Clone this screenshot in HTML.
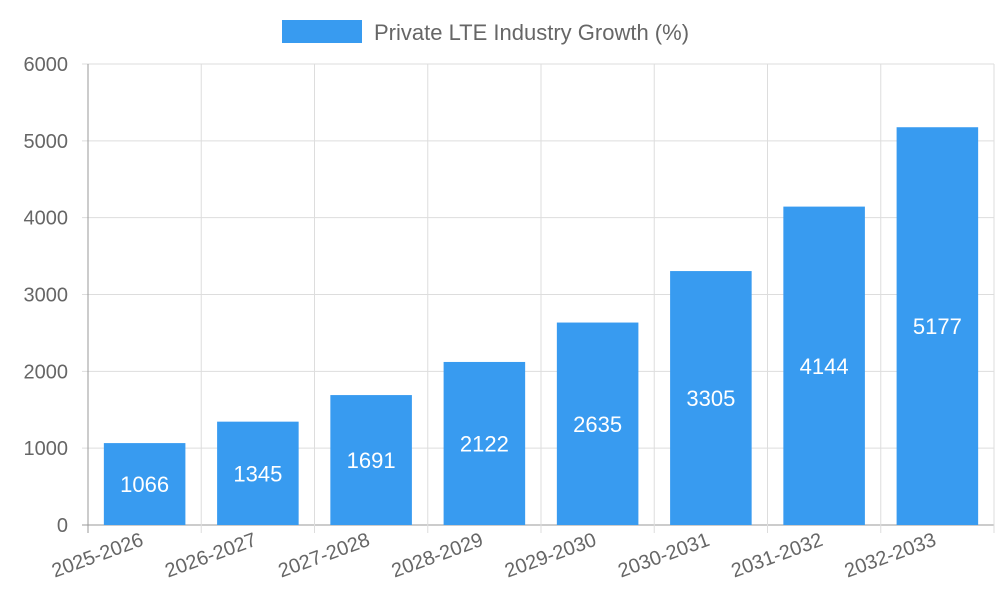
<!DOCTYPE html>
<html><head><meta charset="utf-8"><style>
body{margin:0;background:#fff;font-family:"Liberation Sans",sans-serif}
svg text{font-family:"Liberation Sans",sans-serif}
</style></head><body>
<svg id="c" width="1000" height="600">
<g>
<rect x="282" y="20" width="80" height="23" fill="#389bf0"/>
<text x="374" y="40" font-size="22" fill="#666">Private LTE Industry Growth (%)</text>
</g>
</svg>
<script>
const categories=["2025-2026","2026-2027","2027-2028","2028-2029","2029-2030","2030-2031","2031-2032","2032-2033"];
const values=[1066,1345,1691,2122,2635,3305,4144,5177];
const yTicks=[0,1000,2000,3000,4000,5000,6000];
const svg=document.getElementById('c');
const NS='http://www.w3.org/2000/svg';
const L=88,R=994,T=64,B=525,yMax=6000;
const bw=(R-L)/categories.length;
const x=i=>L+i*bw;
const y=v=>B-(v/yMax)*(B-T);
function mk(t,a){const e=document.createElementNS(NS,t);for(const k in a)e.setAttribute(k,a[k]);svg.appendChild(e);return e;}
yTicks.forEach(v=>{
 const g=mk('line',{x1:L-6,x2:R,y1:y(v),y2:y(v),stroke:v===0?'#999':'#ddd','stroke-width':1});
 
 
 const t=mk('text',{x:L-20,y:y(v)+7,'text-anchor':'end','font-size':20,fill:'#666'});
 t.textContent=v;
 
 
});
for(let i=0;i<=categories.length;i++){
 const g=mk('line',{x1:x(i),x2:x(i),y1:T,y2:B+8,stroke:i===0?'#999':'#ddd','stroke-width':1});
 
 
}
categories.forEach((c,i)=>{
 const cx=x(i)+bw/2,w=bw*0.72;
 const r=mk('rect',{x:cx-w/2,y:y(values[i]),width:w,height:B-y(values[i]),fill:'#389bf0'});
 
 
 const vt=mk('text',{x:cx,y:(y(values[i])+B)/2+8,'text-anchor':'middle','font-size':22,fill:'#fff'});
 vt.textContent=values[i];
 
 
 const t=mk('text',{x:cx,y:B+20,'text-anchor':'end','font-size':20,fill:'#666',transform:`rotate(-20 ${cx} ${B+20})`});
 t.textContent=c;
 
 
});
</script>
</body></html>
